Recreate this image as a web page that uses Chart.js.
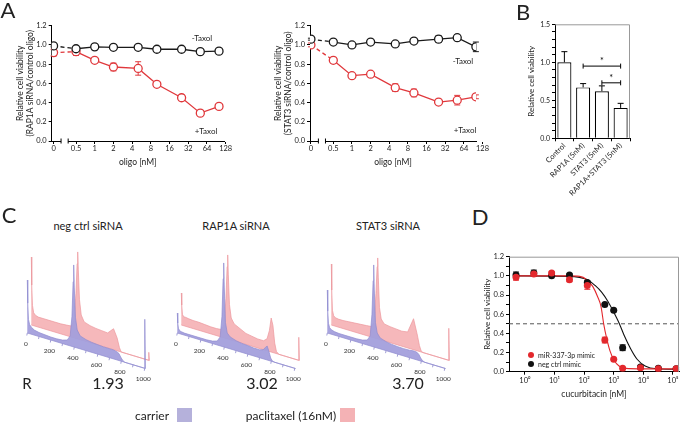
<!DOCTYPE html>
<html>
<head>
<meta charset="utf-8">
<script src="https://cdn.jsdelivr.net/npm/chart.js@4.4.0/dist/chart.umd.min.js"></script>
<style>
body { margin: 0; background: #fff; }
#fig { position: relative; width: 683px; height: 423px; overflow: hidden; font-family: Lato, 'Open Sans', sans-serif; color: #222; }
#fig canvas { position: absolute; }
.t { position: absolute; white-space: nowrap; line-height: 1; transform: translate(-50%, -50%); }
.big { font-size: 22px; }
.sq { position: absolute; width: 15px; height: 14px; }
.dot { position: absolute; width: 6px; height: 6px; border-radius: 50%; transform: translate(-50%, -50%); }
</style>
</head>
<body>
<div id="fig">
  <canvas id="a1" width="235" height="171" style="left:0;top:0"></canvas>
  <canvas id="a2" width="250" height="171" style="left:240px;top:0"></canvas>
  <canvas id="b" width="150" height="205" style="left:490px;top:0"></canvas>
  <canvas id="c1" width="140" height="140" style="left:20px;top:245px"></canvas>
  <canvas id="c2" width="140" height="140" style="left:170px;top:245px"></canvas>
  <canvas id="c3" width="140" height="140" style="left:320px;top:245px"></canvas>
  <canvas id="d" width="205" height="173" style="left:478px;top:230px"></canvas>

  <div class="t big" style="left:8px;top:10px">A</div>
  <div class="t big" style="left:523px;top:12px">B</div>
  <div class="t big" style="left:9px;top:215px">C</div>
  <div class="t big" style="left:480px;top:217px">D</div>

  <div class="t" style="left:202px;top:38px;font-size:8px">-Taxol</div>
  <div class="t" style="left:206px;top:131px;font-size:8px">+Taxol</div>
  <div class="t" style="left:463px;top:61px;font-size:8px">-Taxol</div>
  <div class="t" style="left:465px;top:130px;font-size:8px">+Taxol</div>

  <div class="t" style="left:88px;top:225px;font-size:11px">neg ctrl siRNA</div>
  <div class="t" style="left:236px;top:225px;font-size:11px">RAP1A siRNA</div>
  <div class="t" style="left:388px;top:225px;font-size:11px">STAT3 siRNA</div>

  <div class="t" style="left:27px;top:383px;font-size:15px">R</div>
  <div class="t" style="left:108px;top:383px;font-size:16px">1.93</div>
  <div class="t" style="left:262px;top:383px;font-size:16px">3.02</div>
  <div class="t" style="left:408px;top:383px;font-size:16px">3.70</div>

  <div class="t" style="left:152px;top:416px;font-size:12px">carrier</div>
  <div class="sq" style="left:177px;top:408px;background:#b5b1db"></div>
  <div class="t" style="left:291px;top:416px;font-size:12px">paclitaxel (16nM)</div>
  <div class="sq" style="left:340px;top:408px;background:#f4b2b5"></div>

  <div class="dot" style="left:531px;top:355px;background:#e3282d"></div>
  <div class="t" style="left:538px;top:355px;font-size:7px;transform:translate(0,-50%)">miR-337-3p mimic</div>
  <div class="dot" style="left:531px;top:364px;background:#111"></div>
  <div class="t" style="left:538px;top:364px;font-size:7px;transform:translate(0,-50%)">neg ctrl mimic</div>
</div>
<script>
// ---- panel A : viability vs oligo dose
const oligoDoses = [0, 0.5, 1, 2, 5, 10, 25, 50, 100];
const oligoTicks = [0, 0.5, 1, 2, 4, 8, 16, 32, 64, 128];
const oligoTickLabels = ['0', '0.5', '1', '2', '4', '8', '16', '32', '64', '128'];
const rapNoTaxol = [0.99, 0.96, 0.98, 0.975, 0.975, 0.955, 0.955, 0.93, 0.935];
const rapNoTaxolErr = [0.01, 0.01, 0, 0, 0, 0, 0.01, 0.01, 0];
const rapTaxol = [0.92, 0.93, 0.84, 0.77, 0.755, 0.59, 0.45, 0.29, 0.36];
const rapTaxolErr = [0.035, 0.04, 0, 0.04, 0.07, 0, 0.03, 0.025, 0];
const statNoTaxol = [1.06, 1.03, 1.0, 1.03, 1.01, 1.04, 1.06, 1.075, 0.98];
const statNoTaxolErr = [0.01, 0, 0, 0, 0.02, 0.025, 0.035, 0.03, 0.05];
const statTaxol = [1.0, 0.84, 0.68, 0.695, 0.555, 0.5, 0.405, 0.425, 0.46];
const statTaxolErr = [0.02, 0.03, 0, 0, 0.04, 0.04, 0.015, 0.05, 0.02];

// ---- panel B
const bCats = ['Control', 'RAP1A (5nM)', 'STAT3 (5nM)', 'RAP1A+STAT3 (5nM)'];
const bVals = [1.0, 0.67, 0.62, 0.40];
const bErr = [0.14, 0.05, 0.07, 0.06];
const sigFrom = [1, 2];
const sigTo = [3, 3];
const sigY = [0.95, 0.73];

// ---- panel C : DNA content histograms (channel, heights)
const CH = [0, 4, 10, 20, 35, 60, 100, 150, 200, 250, 300, 340, 365, 380, 390, 395, 400, 410, 425, 450,
            500, 550, 600, 650, 700, 730, 750, 765, 780, 795, 810, 830, 870, 950, 990, 995, 1000, 1005];
const negBlue = [53, 30, 14, 9, 7, 5, 4, 3.5, 3, 3, 3.5, 5, 10, 30, 65, 82, 60, 30, 18, 13,
                 11, 10, 9.5, 9, 9, 9, 8.5, 8, 7, 4, 1.5, 0, 0, 0, 0, 0, 49, 0];
const negRed = [68, 40, 20, 13, 11, 10, 10, 10, 10, 10, 10.5, 11, 18, 45, 75, 87, 70, 40, 25, 19,
                17, 16, 15.5, 15, 21, 13, 4, 0, 0, 0, 0, 0, 0, 0, 0, 0, 8, 0];
const rapBlue = [20, 10, 5, 3, 2.5, 2, 2, 2, 2, 2, 2.5, 4, 9, 30, 68, 84, 60, 25, 15, 12,
                 10, 9, 8.6, 8, 8, 9, 12, 14, 9, 3, 0.5, 0, 0, 0, 0, 0, 0, 0];
const rapRed = [32, 20, 11, 9, 9, 8.5, 8, 8, 7.5, 7, 7, 7.5, 13, 40, 72, 84, 65, 35, 22, 17,
                14, 11, 10, 9, 9, 12, 21, 34, 27, 10, 2, 0, 0, 0, 0, 0, 23, 0];
const statBlue = [43, 22, 10, 6, 4.5, 3.5, 3, 3, 3, 3, 3.5, 5, 10, 32, 66, 82, 58, 25, 15, 11,
                  9, 8, 7.5, 7.3, 7.5, 8, 8, 7.5, 6, 3, 1, 0, 0, 0, 0, 0, 0, 0];
const statRed = [61, 35, 15, 10, 8.5, 8, 8, 8.5, 9, 9.5, 10, 10.5, 15, 45, 72, 81, 62, 32, 21, 17,
                 16, 15.5, 15, 16, 31, 17, 6, 1, 0, 0, 0, 0, 0, 0, 0, 0, 32, 0];
const histTicks = [0, 200, 400, 600, 800, 1000];

// ---- panel D : cucurbitacin dose response
const cucDoses = [0.5, 2, 8, 32, 128, 500, 1000, 2000, 8000, 32000, 128000];
const mirVia = [0.985, 1.02, 1.03, 0.96, 0.90, 0.33, 0.13, 0.035, 0.04, 0.03, 0.03];
const mirErr = [0.03, 0.02, 0.01, 0.02, 0.04, 0.03, 0.01, 0, 0, 0, 0];
const ctrlVia = [1.01, 1.03, 1.0, 1.01, 0.93, 0.70, 0.64, 0.25, 0.05, 0.035, 0.03];
const ctrlErr = [0.03, 0.03, 0, 0.01, 0.02, 0.01, 0.01, 0.03, 0.01, 0.01, 0.01];
const mirFitX = [0.55, 30, 71, 123, 195, 288, 372, 457, 575, 741, 1023, 1514, 2512, 10000, 150000];
const mirFitY = [1.0, 1.0, 0.995, 0.96, 0.89, 0.78, 0.68, 0.50, 0.35, 0.22, 0.12, 0.06, 0.035, 0.03, 0.03];
const ctrlFitX = [0.55, 30, 129, 234, 389, 646, 1000, 1549, 2239, 3715, 6166, 11481, 28183, 150000];
const ctrlFitY = [1.0, 0.995, 0.96, 0.90, 0.83, 0.73, 0.62, 0.50, 0.38, 0.24, 0.13, 0.06, 0.03, 0.025];
const decadeTicks = [1, 10, 100, 1000, 10000, 100000];
const decadeLabels = ['10\u2070', '10\u00b9', '10\u00b2', '10\u00b3', '10\u2074', '10\u2075'];

Chart.defaults.font.family = 'Lato, "Open Sans", sans-serif';
Chart.defaults.color = '#222';

const ZERO_POS = -2.2;      // where dose 0 sits on the log2 axis
const BREAK_FROM = -1.8;
const BREAK_TO = -1.42;
function pos2(v) { return v === 0 ? ZERO_POS : Math.log2(v); }

const errorBars = {
    id: 'errorBars',
    beforeDatasetsDraw(chart) {
        const ctx = chart.ctx;
        const ys = chart.scales.y;
        chart.data.datasets.forEach((ds, i) => {
            if (!ds.errors) return;
            const meta = chart.getDatasetMeta(i);
            ctx.save();
            ctx.strokeStyle = ds.errColor || ds.borderColor;
            ctx.lineWidth = 1;
            meta.data.forEach((el, j) => {
                const e = ds.errors[j];
                if (!e) return;
                const d = ds.data[j];
                const v = typeof d === 'number' ? d : d.y;
                const top = ys.getPixelForValue(v + e);
                const bot = ys.getPixelForValue(ds.upOnly ? v : v - e);
                const x = el.x;
                ctx.beginPath();
                ctx.moveTo(x, top); ctx.lineTo(x, bot);
                ctx.moveTo(x - 3, top); ctx.lineTo(x + 3, top);
                if (!ds.upOnly) { ctx.moveTo(x - 3, bot); ctx.lineTo(x + 3, bot); }
                ctx.stroke();
            });
            ctx.restore();
        });
    }
};

const axisBreak = {
    id: 'axisBreak',
    afterDraw(chart) {
        const ctx = chart.ctx;
        const xs = chart.scales.x;
        const y0 = chart.chartArea.bottom;
        const a = xs.getPixelForValue(BREAK_FROM);
        const b = xs.getPixelForValue(BREAK_TO);
        ctx.save();
        ctx.fillStyle = '#fff';
        ctx.fillRect(a, y0 - 1.5, b - a, 3);
        ctx.strokeStyle = '#000';
        ctx.lineWidth = 1;
        ctx.beginPath();
        ctx.moveTo(a, y0 - 2.5); ctx.lineTo(a, y0 + 2.5);
        ctx.moveTo(b, y0 - 2.5); ctx.lineTo(b, y0 + 2.5);
        ctx.stroke();
        ctx.restore();
    }
};

const frame = {
    id: 'frame',
    afterDraw(chart) {
        const ctx = chart.ctx;
        const a = chart.chartArea;
        ctx.save();
        ctx.strokeStyle = '#999';
        ctx.lineWidth = 1;
        ctx.beginPath();
        ctx.moveTo(a.left, a.top + 0.5);
        ctx.lineTo(a.right - 0.5, a.top + 0.5);
        ctx.lineTo(a.right - 0.5, a.bottom);
        ctx.stroke();
        ctx.restore();
    }
};

function axisStyle() {
    return {
        grid: { drawOnChartArea: false, tickLength: 3, color: '#000' },
        border: { color: '#000', width: 1 }
    };
}

function oligoChart(id, noTax, noTaxErr, tax, taxErr, yTitle, pad, yWidth, xMin, xMax) {
    const dashFirst = { borderDash: c => c.p0DataIndex === 0 ? [4, 3] : undefined };
    return new Chart(document.getElementById(id), {
        type: 'line',
        data: {
            datasets: [{
                label: '-Taxol',
                data: oligoDoses.map((d, i) => ({ x: pos2(d), y: noTax[i] })),
                errors: noTaxErr,
                borderColor: '#1a1a1a',
                backgroundColor: '#fff',
                borderWidth: 1.3,
                pointRadius: 4,
                pointBorderWidth: 1.3,
                segment: dashFirst
            }, {
                label: '+Taxol',
                data: oligoDoses.map((d, i) => ({ x: pos2(d), y: tax[i] })),
                errors: taxErr,
                borderColor: '#e0383c',
                backgroundColor: '#fff',
                borderWidth: 1.3,
                pointRadius: 4,
                pointBorderWidth: 1.3,
                segment: dashFirst
            }]
        },
        options: {
            responsive: false,
            animation: false,
            events: [],
            layout: { padding: pad },
            plugins: { legend: { display: false }, tooltip: { enabled: false } },
            scales: {
                x: {
                    type: 'linear',
                    min: xMin,
                    max: xMax,
                    afterBuildTicks: s => { s.ticks = oligoTicks.map(v => ({ value: pos2(v) })); },
                    afterFit: s => { s.height = 30; },
                    ticks: {
                        autoSkip: false, maxRotation: 0, padding: 0,
                        font: { size: 7.5 },
                        callback: (v, i) => oligoTickLabels[i]
                    },
                    ...axisStyle(),
                    title: { display: true, text: 'oligo [nM]', font: { size: 8.5 }, padding: { top: 2, bottom: 4 } }
                },
                y: {
                    min: 0,
                    max: 1.2,
                    afterFit: s => { s.width = yWidth; },
                    ticks: { stepSize: 0.2, font: { size: 7.5 }, padding: 2, callback: v => v.toFixed(1) },
                    ...axisStyle(),
                    title: { display: true, text: yTitle, font: { size: 8.5 }, padding: { top: 0, bottom: 2 } }
                }
            }
        },
        plugins: [errorBars, axisBreak]
    });
}

oligoChart('a1', rapNoTaxol, rapNoTaxolErr, rapTaxol, rapTaxolErr,
    ['Relative cell viability', '(RAP1A siRNA/control oligo)'],
    { left: 15, top: 25.7, right: 11, bottom: 0 }, 36.7, -2.3, 6.91);
oligoChart('a2', statNoTaxol, statNoTaxolErr, statTaxol, statTaxolErr,
    ['Relative cell viability', '(STAT3 siRNA/control oligo)'],
    { left: 33, top: 25.7, right: 14, bottom: 0 }, 37, -2.25, 6.65);

// ---- B
const sigBars = {
    id: 'sigBars',
    afterDatasetsDraw(chart) {
        const ctx = chart.ctx;
        const xs = chart.scales.x, ys = chart.scales.y;
        ctx.save();
        ctx.strokeStyle = '#000';
        ctx.fillStyle = '#000';
        ctx.lineWidth = 1;
        ctx.font = '9px Lato, sans-serif';
        ctx.textAlign = 'center';
        sigY.forEach((v, i) => {
            const x1 = xs.getPixelForValue(sigFrom[i]);
            const x2 = xs.getPixelForValue(sigTo[i]);
            const y = ys.getPixelForValue(v);
            ctx.beginPath();
            ctx.moveTo(x1, y); ctx.lineTo(x2, y);
            ctx.moveTo(x1, y - 2.5); ctx.lineTo(x1, y + 2.5);
            ctx.moveTo(x2, y - 2.5); ctx.lineTo(x2, y + 2.5);
            ctx.stroke();
            ctx.fillText('*', (x1 + x2) / 2, y - 2);
        });
        ctx.restore();
    }
};

new Chart(document.getElementById('b'), {
    type: 'bar',
    data: {
        labels: bCats,
        datasets: [{
            data: bVals,
            errors: bErr,
            upOnly: true,
            errColor: '#000',
            backgroundColor: '#fff',
            borderColor: '#000',
            borderWidth: 1.2,
            barPercentage: 0.75,
            categoryPercentage: 1.0
        }]
    },
    options: {
        responsive: false,
        animation: false,
        events: [],
        layout: { padding: { left: 37, top: 24.3, right: 10, bottom: 0 } },
        plugins: { legend: { display: false }, tooltip: { enabled: false } },
        scales: {
            x: {
                afterFit: s => { s.height = 205 - 138.3; },
                ticks: { autoSkip: false, minRotation: 45, maxRotation: 45, padding: 0, font: { size: 7.5 } },
                ...axisStyle()
            },
            y: {
                min: 0,
                max: 1.5,
                afterFit: s => { s.width = 28; },
                ticks: {
                    stepSize: 0.1, autoSkip: false, font: { size: 7 }, padding: 2,
                    callback: v => Math.round(v * 10) % 5 === 0 ? v.toFixed(1) : ''
                },
                ...axisStyle(),
                title: { display: true, text: 'Relative cell viability', font: { size: 8 }, padding: { top: 0, bottom: 2 } }
            }
        }
    },
    plugins: [errorBars, sigBars, frame]
});

// ---- C : staggered histograms, carrier in front, paclitaxel shifted back
const SLOPE = 0.0353;   // baseline drop per channel
const RED_DC = 34;      // back-row shift along x (channels)
const RED_DH = 8;       // back-row shift upward
const histLabels = {
    id: 'histLabels',
    afterDatasetsDraw(chart) {
        const ctx = chart.ctx;
        const xs = chart.scales.x, ys = chart.scales.y;
        ctx.save();
        ctx.strokeStyle = '#8a86cc';
        ctx.lineWidth = 0.8;
        ctx.beginPath();
        for (let c = 0; c <= 1000; c += 100) {
            const x = xs.getPixelForValue(c), y = ys.getPixelForValue(-SLOPE * c);
            ctx.moveTo(x, y); ctx.lineTo(x - 0.5, y + 2.5);
        }
        ctx.stroke();
        ctx.fillStyle = '#333';
        ctx.font = '6.5px Lato, sans-serif';
        ctx.textAlign = 'center';
        ctx.textBaseline = 'middle';
        histTicks.forEach(c => {
            ctx.fillText(String(c), xs.getPixelForValue(c) - 1.5, ys.getPixelForValue(-SLOPE * c) + 11);
        });
        ctx.restore();
    }
};

// closed outline: histogram left to right, then back along its baseline
function histShape(h, dc, dh) {
    const top = CH.map((c, i) => ({ x: c + dc, y: dh - SLOPE * c + h[i] }));
    const last = CH[CH.length - 1], first = CH[0];
    return top.concat([
        { x: last + dc, y: dh - SLOPE * last },
        { x: first + dc, y: dh - SLOPE * first }
    ]);
}

function histChart(id, blue, red) {
    return new Chart(document.getElementById(id), {
        type: 'line',
        data: {
            datasets: [{
                data: histShape(blue, 0, 0),
                borderColor: '#8f8bd0',
                borderWidth: 0.7,
                backgroundColor: 'rgba(163,159,220,0.95)',
                fill: 'shape',
                pointRadius: 0
            }, {
                data: histShape(red, RED_DC, RED_DH),
                borderColor: '#ec979c',
                borderWidth: 0.7,
                backgroundColor: 'rgba(245,176,180,0.9)',
                fill: 'shape',
                pointRadius: 0
            }]
        },
        options: {
            responsive: false,
            animation: false,
            events: [],
            layout: { padding: 0 },
            plugins: { legend: { display: false }, tooltip: { enabled: false } },
            scales: {
                x: { type: 'linear', display: false, min: -62.1, max: 1129.4 },
                y: { display: false, min: -52, max: 88 }
            }
        },
        plugins: [histLabels]
    });
}

histChart('c1', negBlue, negRed);
histChart('c2', rapBlue, rapRed);
histChart('c3', statBlue, statRed);

// ---- D
new Chart(document.getElementById('d'), {
    type: 'line',
    data: {
        datasets: [{
            label: 'miR-337-3p mimic',
            data: cucDoses.map((d, i) => ({ x: d, y: mirVia[i] })),
            errors: mirErr,
            showLine: false,
            borderColor: '#e3282d',
            backgroundColor: '#e3282d',
            pointRadius: 3.5,
            pointBorderWidth: 0
        }, {
            label: 'neg ctrl mimic',
            data: cucDoses.map((d, i) => ({ x: d, y: ctrlVia[i] })),
            errors: ctrlErr,
            showLine: false,
            borderColor: '#111',
            backgroundColor: '#111',
            pointRadius: 3.5,
            pointBorderWidth: 0
        }, {
            data: mirFitX.map((d, i) => ({ x: d, y: mirFitY[i] })),
            borderColor: '#e3282d',
            borderWidth: 1.1,
            pointRadius: 0,
            cubicInterpolationMode: 'monotone'
        }, {
            data: ctrlFitX.map((d, i) => ({ x: d, y: ctrlFitY[i] })),
            borderColor: '#111',
            borderWidth: 1.1,
            pointRadius: 0,
            cubicInterpolationMode: 'monotone'
        }, {
            data: [{ x: 0.29, y: 0.5 }, { x: 160000, y: 0.5 }],
            borderColor: '#555',
            borderWidth: 1,
            borderDash: [4, 3],
            pointRadius: 0
        }]
    },
    options: {
        responsive: false,
        animation: false,
        events: [],
        layout: { padding: { left: 5, top: 26.7, right: 1, bottom: 0 } },
        plugins: { legend: { display: false }, tooltip: { enabled: false } },
        scales: {
            x: {
                type: 'logarithmic',
                min: 0.29,
                max: 160000,
                afterBuildTicks: s => { s.ticks = decadeTicks.map(v => ({ value: v })); },
                afterFit: s => { s.height = 173 - 141.7; },
                ticks: { autoSkip: false, maxRotation: 0, padding: 1, font: { size: 7.5 }, callback: (v, i) => decadeLabels[i] },
                ...axisStyle(),
                title: { display: true, text: 'cucurbitacin [nM]', font: { size: 8.5 }, padding: { top: 2, bottom: 4 } }
            },
            y: {
                min: 0,
                max: 1.2,
                afterFit: s => { s.width = 26; },
                ticks: {
                    stepSize: 0.1, autoSkip: false, font: { size: 7.5 }, padding: 2,
                    callback: v => Math.round(v * 10) % 2 === 0 ? v.toFixed(1) : ''
                },
                ...axisStyle(),
                title: { display: true, text: 'Relative cell viability', font: { size: 8 }, padding: { top: 0, bottom: 2 } }
            }
        }
    },
    plugins: [errorBars, frame]
});
</script>
</body>
</html>
